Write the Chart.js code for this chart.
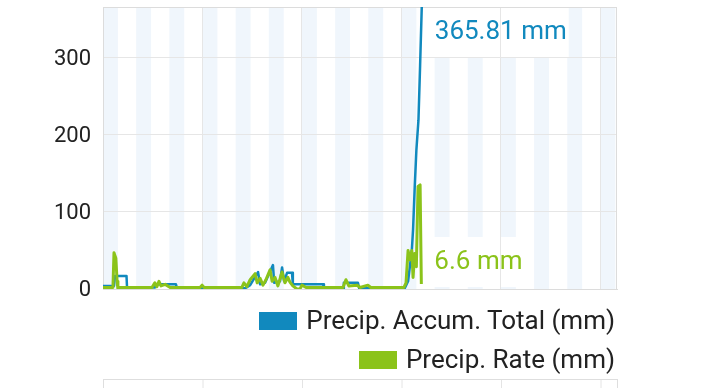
<!DOCTYPE html>
<html>
<head>
<meta charset="utf-8">
<script src="https://cdn.jsdelivr.net/npm/chart.js@4/dist/chart.umd.min.js"></script>
<style>
  body { margin: 0; background: #fff; font-family: Roboto, sans-serif; }
  #wrap { position: relative; width: 720px; height: 388px; overflow: hidden; }
  #legend { position: absolute; right: 105px; top: 301px; }
  .row { display: flex; justify-content: flex-end; align-items: center; height: 39px; }
  .box { width: 38px; height: 18px; margin-right: 9px; }
  .txt { font-size: 26px; color: #222; line-height: 39px; }
  #next { position: absolute; left: 103px; top: 379px; width: 513px; height: 30px;
          border: 1px solid #dedede;
          background-image: linear-gradient(to right, transparent 99px, #e4e4e4 99px, #e4e4e4 100px, transparent 100px);
          background-size: 99.5px 100%; }
</style>
</head>
<body>
<div id="wrap">
  <canvas id="chart" width="720" height="388"></canvas>
  <div id="legend"></div>
  <div id="next"></div>
</div>
<script>
// x in hours since start of the view, y in mm
const accumHours = [0, 2.65, 2.9, 5.67, 5.8, 12.5, 13.0, 17.6, 17.85, 34.3, 35.5, 37.4, 37.9, 39.1, 41.0, 41.3,
    42.7, 43.2, 43.7, 44.4, 45.6, 45.8, 53.1, 53.3, 57.9, 58.1, 61.5, 61.8, 72.8, 73.6, 74.5, 74.8, 75.2, 75.6,
    76.1, 76.5, 76.9];
const accumValues = [4, 4, 17, 17, 2, 2, 6, 6, 1, 1, 5, 22, 6, 8, 31, 8,
    10, 28, 10, 21, 21, 6, 6, 1, 1, 8, 8, 1, 1, 10, 50, 77, 132, 180,
    219, 290, 365.81];

const rateHours = [0, 2.4, 2.65, 3.1, 3.4, 3.6, 4.1, 11.8, 12.5, 13.0, 13.5, 14.0, 15.0, 16.2, 23.4, 23.9, 24.4,
    33.5, 34.0, 34.7, 35.5, 36.7, 37.2, 37.9, 38.6, 39.3, 40.3, 40.8, 41.5, 42.2, 43.2, 43.9, 44.6, 45.1, 45.8,
    46.8, 47.5, 48.0, 49.0, 57.9, 58.6, 59.3, 61.3, 62.0, 63.9, 64.6, 72.6, 73.1, 73.6, 74.1, 74.5, 74.8, 75.2,
    75.6, 76.0, 76.5, 76.8];
const rateValues = [2, 2, 47, 40, 10, 0, 2, 2, 8, 3, 10, 4, 6, 2, 2, 5, 2,
    2, 8, 3, 12, 20, 8, 14, 5, 12, 25, 10, 15, 4, 22, 8, 15, 9, 4,
    0, 0, 5, 2, 2, 12, 4, 5, 2, 5, 2, 2, 8, 50, 38, 50, 15, 46,
    29, 133, 135, 6.6];

const seriesLabels = ['Precip. Accum. Total (mm)', 'Precip. Rate (mm)'];
const seriesColors = ['#1189be', '#8bc31a'];
const yTicks = [0, 100, 200, 300];
const xGrid = [24, 48, 72, 96, 120];
const stripeStarts = [0, 8, 16, 24, 32, 40, 48, 56, 64, 72, 80, 88, 96, 104, 112, 120];
const stripeWidth = 3.6;
const xMax = 124;
const yMax = 365.81;

function toPoints(xs, ys) {
    return xs.map((x, i) => ({x: x, y: ys[i]}));
}

function labelBoxes(chart) {
    const area = chart.chartArea;
    const ctx = chart.ctx;
    ctx.font = '26px Roboto';
    return chart.data.datasets.map(ds => {
        const last = ds.data[ds.data.length - 1];
        const px = chart.scales.x.getPixelForValue(last.x);
        const py = chart.scales.y.getPixelForValue(last.y);
        const text = last.y + ' mm';
        const w = ctx.measureText(text).width;
        const cy = Math.min(Math.max(py, area.top + 25), area.bottom - 27);
        return {x: px + 13, y: cy, w: w + 4, text: text, color: ds.borderColor};
    });
}

const backdrop = {
    id: 'backdrop',
    beforeDraw(chart) {
        const {ctx, chartArea: a, scales: {x}} = chart;
        ctx.save();
        ctx.fillStyle = '#f0f6fc';
        for (const s of stripeStarts) {
            const l = x.getPixelForValue(s);
            const r = Math.min(x.getPixelForValue(s + stripeWidth), a.right);
            ctx.fillRect(l, a.top, r - l, a.bottom - a.top);
        }
        ctx.fillStyle = '#fff';
        for (const b of labelBoxes(chart)) {
            ctx.fillRect(b.x - 2, b.y - 25, b.w, 50);
        }
        ctx.restore();
    },
    beforeDatasetsDraw(chart) {
        const {ctx, chartArea: a} = chart;
        ctx.save();
        ctx.strokeStyle = '#dcdcdc';
        ctx.lineWidth = 1;
        ctx.strokeRect(a.left + 0.5, a.top + 0.5, a.right - a.left - 1, a.bottom - a.top);
        ctx.restore();
    },
    afterDatasetsDraw(chart) {
        const ctx = chart.ctx;
        ctx.save();
        ctx.font = '26px Roboto';
        ctx.textBaseline = 'middle';
        ctx.textAlign = 'left';
        for (const b of labelBoxes(chart)) {
            ctx.fillStyle = b.color;
            ctx.fillText(b.text, b.x, b.y);
        }
        ctx.restore();
    }
};

const chart = new Chart(document.getElementById('chart'), {
    type: 'line',
    data: {
        datasets: [{
            label: seriesLabels[0],
            data: toPoints(accumHours, accumValues),
            borderColor: seriesColors[0],
            borderWidth: 2.5,
            order: 1
        }, {
            label: seriesLabels[1],
            data: toPoints(rateHours, rateValues),
            borderColor: seriesColors[1],
            borderWidth: 3,
            order: 0
        }]
    },
    options: {
        responsive: false,
        animation: false,
        layout: {padding: {left: 0, right: 103, top: 7, bottom: 99}},
        elements: {point: {radius: 0}, line: {tension: 0, borderJoinStyle: 'round'}},
        plugins: {legend: {display: false}, tooltip: {enabled: false}},
        scales: {
            x: {
                type: 'linear',
                min: 0,
                max: xMax,
                afterBuildTicks: s => { s.ticks = xGrid.map(v => ({value: v})); },
                ticks: {display: false},
                grid: {color: '#e6e6e6', drawTicks: false},
                border: {color: '#dcdcdc'}
            },
            y: {
                min: 0,
                max: yMax,
                afterBuildTicks: s => { s.ticks = yTicks.map(v => ({value: v})); },
                afterFit: s => { s.width = 103; s.paddingTop = 0; s.paddingBottom = 0; },
                ticks: {padding: 12, labelOffset: 1.5, color: '#222', font: {family: 'Roboto', size: 22}},
                grid: {color: '#e6e6e6', drawTicks: false},
                border: {color: '#dcdcdc'}
            }
        }
    },
    plugins: [backdrop]
});

const legend = document.getElementById('legend');
chart.data.datasets.forEach(ds => {
    const row = document.createElement('div');
    row.className = 'row';
    row.innerHTML = '<span class="box" style="background:' + ds.borderColor + '"></span><span class="txt">' + ds.label + '</span>';
    legend.appendChild(row);
});
</script>
</body>
</html>
